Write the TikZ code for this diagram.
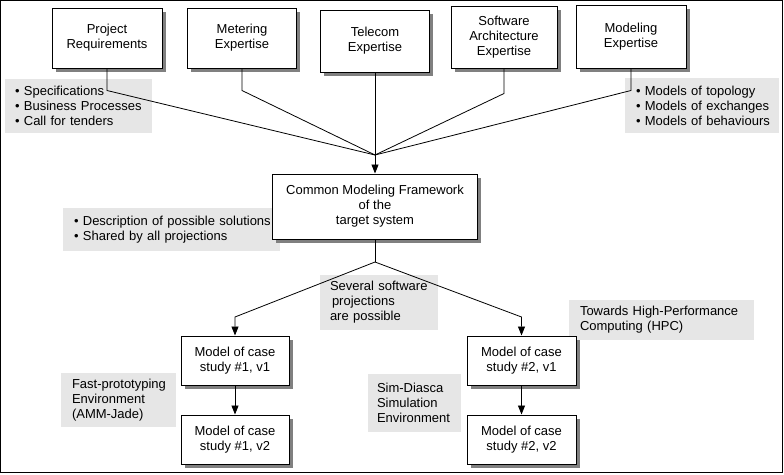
\documentclass[tikz,border=0pt]{standalone}
\usepackage{fontspec}
\setmainfont{Liberation Sans}
\usetikzlibrary{arrows.meta,shadows}
\definecolor{notegray}{RGB}{230,230,230}
\definecolor{shadowgray}{RGB}{128,128,128}
\begin{document}
\begin{tikzpicture}[x=1pt,y=-1pt,
  font=\fontsize{13}{15}\selectfont,
  box/.style={draw=black, line width=1pt, fill=white, align=center, inner sep=0pt,
    drop shadow={shadow xshift=3.5pt, shadow yshift=-3.5pt, fill=shadowgray, opacity=1}},
  note/.style={fill=notegray, align=left, inner ysep=0pt},
  conn/.style={draw=black, line width=0.8pt},
  arr/.style={conn, -{Triangle[length=9pt,width=7pt]}}
]
\useasboundingbox (0,0) rectangle (784,474);
\draw[line width=1pt] (0.5,0.5) rectangle (782.5,472.5);

% notes
\node[note, minimum width=147pt, minimum height=54pt, inner xsep=10pt, text width=127pt] (specs) at (78.5,106)
  {\mbox{• Specifications}\\\mbox{• Business Processes}\\\mbox{• Call for tenders}};
\node[note, minimum width=154pt, minimum height=55pt, inner xsep=11pt, text width=132pt] (models) at (702,105.5)
  {\mbox{• Models of topology}\\\mbox{• Models of exchanges}\\\mbox{• Models of behaviours}};
\node[note, minimum width=217pt, minimum height=43pt, inner xsep=11pt, text width=195pt] (descr) at (171.5,229.5)
  {\mbox{• Description of possible solutions}\\\mbox{• Shared by all projections}};
\node[note, minimum width=118pt, minimum height=55pt, inner xsep=10pt, text width=98pt] (several) at (379,302.5)
  {\mbox{Several software}\\\mbox{\hspace{2pt}projections}\\\mbox{are possible}};
\node[note, minimum width=185pt, minimum height=40pt, inner xsep=11pt, text width=163pt] (hpc) at (661.5,320)
  {\mbox{Towards High-Performance}\\\mbox{Computing (HPC)}};
\node[note, minimum width=93pt, minimum height=58pt, inner xsep=9pt, text width=75pt] (sim) at (414.5,403)
  {\mbox{Sim-Diasca}\\\mbox{Simulation}\\\mbox{Environment}};
\node[note, minimum width=115pt, minimum height=54pt, inner xsep=11pt, text width=93pt] (fast) at (118.5,400)
  {\mbox{Fast-prototyping}\\\mbox{Environment}\\\mbox{(AMM-Jade)}};

% top boxes
\node[box, minimum width=110pt, minimum height=60pt] (req) at (107,38) {Project\\Requirements};
\node[box, minimum width=109pt, minimum height=60pt] (met) at (242,38) {Metering\\Expertise};
\node[box, minimum width=109pt, minimum height=62pt] (tel) at (375,41) {Telecom\\Expertise};
\node[box, minimum width=106pt, minimum height=62pt] (sw) at (504,37) {Software\\Architecture\\Expertise};
\node[box, minimum width=110pt, minimum height=63pt] (mod) at (631,36.5) {Modeling\\Expertise};

% framework
\node[box, minimum width=205pt, minimum height=65pt] (cmf) at (375,206.5) {Common Modeling Framework\\of the\\target system};

% case studies
\node[box, minimum width=108pt, minimum height=49pt] (c1a) at (235,360.5) {Model of case\\study \#1, v1};
\node[box, minimum width=108pt, minimum height=49pt] (c1b) at (235,439.5) {Model of case\\study \#1, v2};
\node[box, minimum width=109pt, minimum height=49pt] (c2a) at (521.5,360.5) {Model of case\\study \#2, v1};
\node[box, minimum width=109pt, minimum height=49pt] (c2b) at (521.5,439.5) {Model of case\\study \#2, v2};

% connectors
\coordinate (merge) at (375,155);
\draw[conn] (req.south) -- ++(0,22) -- (merge);
\draw[conn] (met.south) -- ++(0,22) -- (merge);
\draw[conn] (tel.south) -- (merge);
\draw[conn] (sw.south) -- ++(0,25) -- (merge);
\draw[conn] (mod.south) -- ++(0,22) -- (merge);
\draw[arr] (merge) -- (cmf.north);

\coordinate (split) at (375,262);
\coordinate (lbend) at (235,317);
\coordinate (rbend) at (521.5,317);
\draw[conn] (cmf.south) -- (split);
\draw[arr] (split) -- (lbend) -- (c1a.north);
\draw[arr] (split) -- (rbend) -- (c2a.north);
\draw[arr] (c1a.south) -- (c1b.north);
\draw[arr] (c2a.south) -- (c2b.north);
\end{tikzpicture}
\end{document}
